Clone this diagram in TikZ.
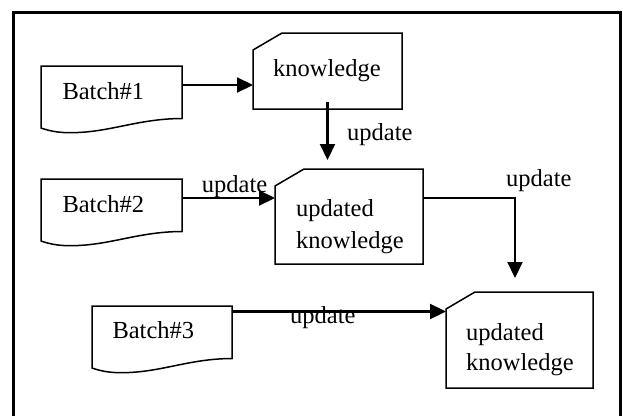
\documentclass[tikz,border=0pt]{standalone}
\usepackage{fontspec}
\setmainfont{Liberation Serif}
\usetikzlibrary{arrows.meta,calc}

\begin{document}
\begin{tikzpicture}[x=1pt,y=-1pt,
  frame/.style={line width=3pt},
  outline/.style={line width=1.5pt, line join=miter},
  flow/.style={line width=2.2pt, -{Triangle[length=16pt,width=15pt]}},
  area/.style={draw=none, inner sep=0pt, outer sep=0pt},
  txt/.style={font=\fontsize{24.5}{28}\selectfont, inner sep=0pt, anchor=base west},
]
\useasboundingbox (0,0) rectangle (623,415);

% outer frame (its lower edge runs off the page)
\draw[frame] (13.3,425) -- (13.3,12.2) -- (620,12.2) -- (620,425);

% batch documents (areas hold the geometry, outlines drawn below)
\node[area, minimum width=141pt, minimum height=62pt] (b1) at (111.5,97) {};
\node[area, minimum width=141pt, minimum height=62pt] (b2) at (111.5,210) {};
\node[area, minimum width=140pt, minimum height=62pt] (b3) at (162,337) {};

% knowledge cards
\node[area, minimum width=149pt, minimum height=76pt] (k1) at (327.5,71) {};
\node[area, minimum width=148pt, minimum height=95pt] (k2) at (349,216.5) {};
\node[area, minimum width=147pt, minimum height=96pt] (k3) at (519.5,340) {};

% document outlines with a wavy lower edge
\foreach \n in {b1,b2,b3} {
  \draw[outline] (\n.south west) -- (\n.north west) -- (\n.north east)
    -- ($(\n.south east)+(0,-9.5)$)
    .. controls ($(\n.south west)+(96,-9.3)$) and ($(\n.south west)+(69,4.7)$)
    .. ($(\n.south west)+(29,4.7)$)
    .. controls ($(\n.south west)+(19,4.7)$) and ($(\n.south west)+(10,3.5)$)
    .. (\n.south west) -- cycle;
}

% card outlines with a cut top-left corner
\foreach \n in {k1,k2,k3} {
  \draw[outline] ($(\n.north west)+(0,17)$) -- ($(\n.north west)+(29,0)$)
    -- (\n.north east) -- (\n.south east) -- (\n.south west) -- cycle;
}

% texts
\node[txt] (b1t) at (62.3,99.3) {Batch\#1};
\node[txt] (b2t) at (62.3,212.3) {Batch\#2};
\node[txt] (b3t) at (112.3,338.3) {Batch\#3};
\node[txt] (k1t) at (273,76.7) {knowledge};
\node[txt] (k2ta) at (296,216.7) {updated};
\node[txt] (k2tb) at (296,248.3) {knowledge};
\node[txt] (k3ta) at (466,340) {updated};
\node[txt] (k3tb) at (466,370.7) {knowledge};

% connectors
\draw[flow] ([yshift=12pt]b1.east) -- ([yshift=12pt]b1.east -| k1.west);
\draw[flow] ([yshift=7pt]k1.south) -- ($(k1.south |- k2.north)+(0,-9)$);
\draw[flow] ([yshift=12pt]b2.east) -- ([yshift=12pt]b2.east -| k2.west);
\draw[flow] ([yshift=18.5pt]k2.east) -| ($(k3.north west)+(69,-14)$);
\draw[flow] ([yshift=25.5pt]b3.east) -- ([yshift=25.5pt]b3.east -| k3.west);

% connector labels
\node[txt] (u1) at (347,140) {update};
\node[txt] (u2) at (201.7,192.3) {update};
\node[txt] (u3) at (506,186.7) {update};
\node[txt] (u4) at (290,323) {update};
\end{tikzpicture}
\end{document}
